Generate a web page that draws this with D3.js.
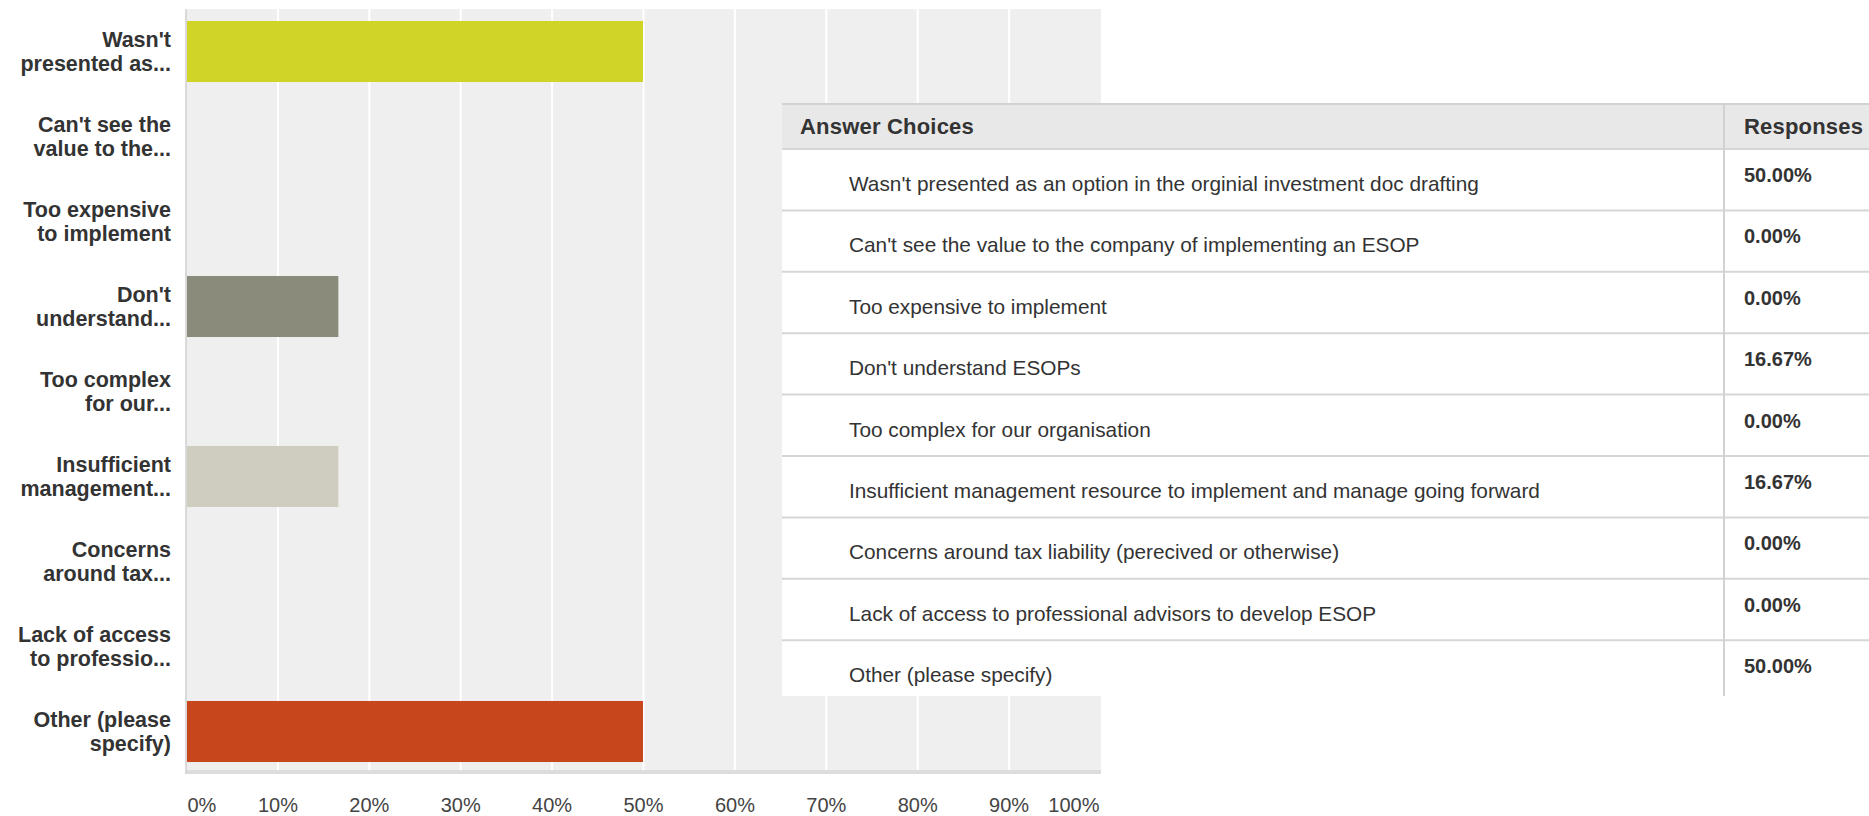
<!DOCTYPE html>
<html>
<head>
<meta charset="utf-8">
<style>
  body { margin: 0; background: #fff; }
  .cat-label { font: bold 21.5px "Liberation Sans", Arial, sans-serif; fill: #333; }
  .axis text { font: 20px "Liberation Sans", Arial, sans-serif; fill: #444; }
  .th { font: bold 22px "Liberation Sans", Arial, sans-serif; fill: #333; letter-spacing: 0.2px; }
  .td { font: 20.8px "Liberation Sans", Arial, sans-serif; fill: #333; }
  .pct { font: bold 20px "Liberation Sans", Arial, sans-serif; fill: #333; }
</style>
</head>
<body>
<svg width="1869" height="816"></svg>
<script src="https://d3js.org/d3.v7.min.js"></script>
<script>
var answers = [
  "Wasn't presented as an option in the orginial investment doc drafting",
  "Can't see the value to the company of implementing an ESOP",
  "Too expensive to implement",
  "Don't understand ESOPs",
  "Too complex for our organisation",
  "Insufficient management resource to implement and manage going forward",
  "Concerns around tax liability (perecived or otherwise)",
  "Lack of access to professional advisors to develop ESOP",
  "Other (please specify)"
];
// shortened axis labels, two lines each
var labelLines = [
  ["Wasn't", "presented as..."],
  ["Can't see the", "value to the..."],
  ["Too expensive", "to implement"],
  ["Don't", "understand..."],
  ["Too complex", "for our..."],
  ["Insufficient", "management..."],
  ["Concerns", "around tax..."],
  ["Lack of access", "to professio..."],
  ["Other (please", "specify)"]
];
var responses = [50, 0, 0, 16.67, 0, 16.67, 0, 0, 50];
var barColors = ["#d0d427", "#6d8a9c", "#a1b26b", "#8a8b7b", "#5b7c8d", "#cfcdbf", "#e39a32", "#7e9e5b", "#c7461b"];
var xTicks = [0, 10, 20, 30, 40, 50, 60, 70, 80, 90, 100];

var svg = d3.select("svg");

var plotTop = 9, plotBottom = 770, plotLeft = 186, plotRight = 1101;

var x = d3.scaleLinear().domain([0, 100]).range([plotLeft, plotRight - 1]);
var y = d3.scaleBand()
  .domain(d3.range(answers.length))
  .range([plotTop, plotBottom + 4])
  .paddingInner(0.282)
  .paddingOuter(0.141);

// plot background
svg.append("rect")
  .attr("x", plotLeft).attr("y", plotTop)
  .attr("width", plotRight - plotLeft).attr("height", plotBottom - plotTop)
  .attr("fill", "#efefef");

// grid
var grid = svg.append("g")
  .attr("transform", "translate(0," + plotBottom + ")")
  .call(d3.axisBottom(x).tickValues(xTicks.slice(1, -1)).tickSize(-(plotBottom - plotTop)).tickFormat(""));
grid.select(".domain").remove();
grid.selectAll("line").attr("stroke", "#fff").attr("stroke-width", 2);

// bottom band + left axis line
svg.append("rect")
  .attr("x", plotLeft).attr("y", plotBottom)
  .attr("width", plotRight - plotLeft).attr("height", 4)
  .attr("fill", "#dcdcdc");
svg.append("line")
  .attr("x1", plotLeft).attr("x2", plotLeft)
  .attr("y1", plotTop).attr("y2", plotBottom + 4)
  .attr("stroke", "#cfcfcf").attr("stroke-width", 1.5);

// bars
svg.append("g").selectAll("rect")
  .data(responses)
  .join("rect")
    .attr("x", plotLeft + 1)
    .attr("y", function(d, i) { return y(i); })
    .attr("width", function(d) { return Math.max(0, x(d) - plotLeft - 1); })
    .attr("height", y.bandwidth())
    .attr("fill", function(d, i) { return barColors[i]; });

// category labels
var cats = svg.append("g").selectAll("text")
  .data(labelLines)
  .join("text")
    .attr("class", "cat-label")
    .attr("text-anchor", "end")
    .attr("x", 171)
    .attr("y", function(d, i) { return y(i) + y.bandwidth() / 2; });
cats.selectAll("tspan")
  .data(function(d) { return d; })
  .join("tspan")
    .attr("x", 171)
    .attr("dy", function(d, j) { return j === 0 ? -4.8 : 24.4; })
    .text(function(d) { return d; });

// x axis labels
var xAxis = svg.append("g")
  .attr("class", "axis")
  .attr("transform", "translate(0,811.5)")
  .call(d3.axisBottom(x).tickValues(xTicks).tickSize(0).tickPadding(0).tickFormat(function(d) { return d + "%"; }));
xAxis.select(".domain").remove();
xAxis.selectAll("text")
  .attr("y", 0).attr("dy", 0)
  .attr("text-anchor", function(d, i) { return i === 0 ? "start" : (i === xTicks.length - 1 ? "end" : "middle"); })
  .attr("dx", function(d, i) { return i === 0 ? 1 : (i === xTicks.length - 1 ? -1 : 0); });

// table
var tLeft = 782, tRight = 1869, tTop = 104, headH = 45, rowH = 61.4, tBottom = 696, colX = 1724;
var rowY = d3.scaleLinear().domain([0, 1]).range([tTop + headH, tTop + headH + rowH]);

svg.append("clipPath").attr("id", "tclip")
  .append("rect").attr("x", tLeft).attr("y", tTop - 2).attr("width", tRight - tLeft).attr("height", tBottom - tTop + 2);

var table = svg.append("g").attr("clip-path", "url(#tclip)");
table.append("rect")
  .attr("x", tLeft).attr("y", tTop)
  .attr("width", tRight - tLeft).attr("height", tBottom - tTop)
  .attr("fill", "#fff");
table.append("rect")
  .attr("x", tLeft).attr("y", tTop)
  .attr("width", tRight - tLeft).attr("height", headH)
  .attr("fill", "#e8e8e8");
table.append("line")
  .attr("x1", tLeft).attr("x2", tRight).attr("y1", tTop).attr("y2", tTop)
  .attr("stroke", "#d2d2d2").attr("stroke-width", 2);

table.selectAll(".rowline")
  .data(d3.range(answers.length))
  .join("line")
    .attr("class", "rowline")
    .attr("x1", tLeft).attr("x2", tRight)
    .attr("y1", function(i) { return rowY(i); })
    .attr("y2", function(i) { return rowY(i); })
    .attr("stroke", "#d6d6d6").attr("stroke-width", 2);

table.append("line")
  .attr("x1", colX).attr("x2", colX).attr("y1", tTop).attr("y2", tBottom)
  .attr("stroke", "#d2d2d2").attr("stroke-width", 2);

table.append("text").attr("class", "th").attr("x", 800).attr("y", tTop + 30).text("Answer Choices");
table.append("text").attr("class", "th").attr("x", 1744).attr("y", tTop + 30).text("Responses");

table.selectAll(".td")
  .data(answers)
  .join("text")
    .attr("class", "td")
    .attr("x", 849)
    .attr("y", function(d, i) { return rowY(i) + 42; })
    .text(function(d) { return d; });

table.selectAll(".pct")
  .data(responses)
  .join("text")
    .attr("class", "pct")
    .attr("x", 1744)
    .attr("y", function(d, i) { return rowY(i) + 33; })
    .text(function(d) { return d3.format(".2f")(d) + "%"; });
</script>
</body>
</html>
